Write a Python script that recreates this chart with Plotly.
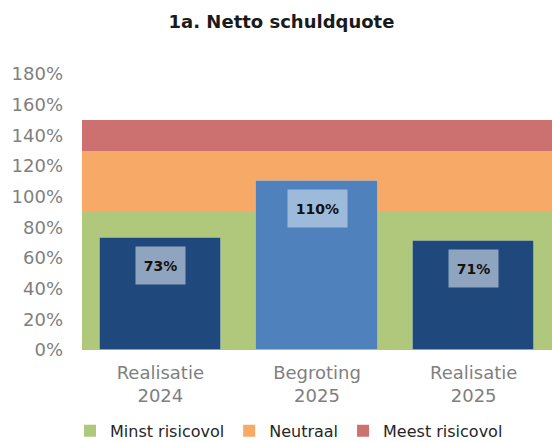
import plotly.graph_objects as go

categories = ["Realisatie<br>2024", "Begroting<br>2025", "Realisatie<br>2025"]
values = [73, 110, 71]
bar_colors = ["#1F497D", "#4F81BD", "#1F497D"]
label_bg = ["rgba(255,255,255,0.5)", "rgba(255,255,255,0.45)", "rgba(255,255,255,0.5)"]

band_names = ["Minst risicovol", "Neutraal", "Meest risicovol"]
band_upper = [90, 130, 150]
band_colors = ["#AFC87B", "#F7A968", "#CD7070"]

y_ticks = list(range(0, 181, 20))
y_ticktext = [f"{t}%" for t in y_ticks]

FONT = "DejaVu Sans"
xpos = list(range(len(categories)))

fig = go.Figure()

lower = 0
for name, up, col in zip(band_names, band_upper, band_colors):
    fig.add_trace(go.Bar(
        x=[1], y=[up - lower], base=[lower], width=[3],
        name=name, marker=dict(color=col, line=dict(width=0)),
        hoverinfo="skip",
    ))
    lower = up

fig.add_trace(go.Bar(
    x=xpos, y=values, width=0.775,
    marker=dict(color=bar_colors, line=dict(width=1, color="rgba(255,255,255,0.25)")),
    showlegend=False,
))

for xi, v, bg in zip(xpos, values, label_bg):
    txt = f"{v}%"
    fig.add_annotation(
        x=xi, y=v, xref="x", yref="y",
        text=f"<b>{txt}</b>", showarrow=False,
        yanchor="top", yshift=-8,
        font=dict(family=FONT, size=14, color="#111111"),
        bgcolor=bg, width=17 + 10 * len(txt), height=35, borderpad=1,
    )

fig.update_layout(
    width=552, height=442,
    margin=dict(l=82, r=0, t=74, b=92, autoexpand=False),
    paper_bgcolor="white", plot_bgcolor="white",
    barmode="overlay", bargap=0,
    title=dict(text="<b>1a. Netto schuldquote</b>", x=(168 + 395) / 2 / 552, xref="container",
               xanchor="center", y=1 - 22 / 442, yanchor="middle",
               font=dict(family=FONT, size=18, color="#1a1a1a")),
    xaxis=dict(range=[-0.5, 2.5], tickvals=xpos, ticktext=categories,
               showgrid=False, zeroline=False, showline=False, ticks="",
               ticklabelstandoff=10, automargin=False, tickangle=0,
               tickfont=dict(family=FONT, size=18, color="#7f7f7f")),
    yaxis=dict(range=[0, 180], tickvals=y_ticks, ticktext=y_ticktext,
               showgrid=False, zeroline=False, showline=False, ticks="",
               ticklabelstandoff=18, automargin=False,
               tickfont=dict(family=FONT, size=18, color="#7f7f7f")),
    legend=dict(orientation="h", x=(289 - 82) / 470, xanchor="center",
                y=-0.293, yanchor="middle",
                font=dict(family=FONT, size=16, color="#262626"),
                itemwidth=30, tracegroupgap=0, bgcolor="rgba(0,0,0,0)"),
)

fig.write_html("out.html", config={"displayModeBar": False},
               post_script="document.body.style.margin='0';")
